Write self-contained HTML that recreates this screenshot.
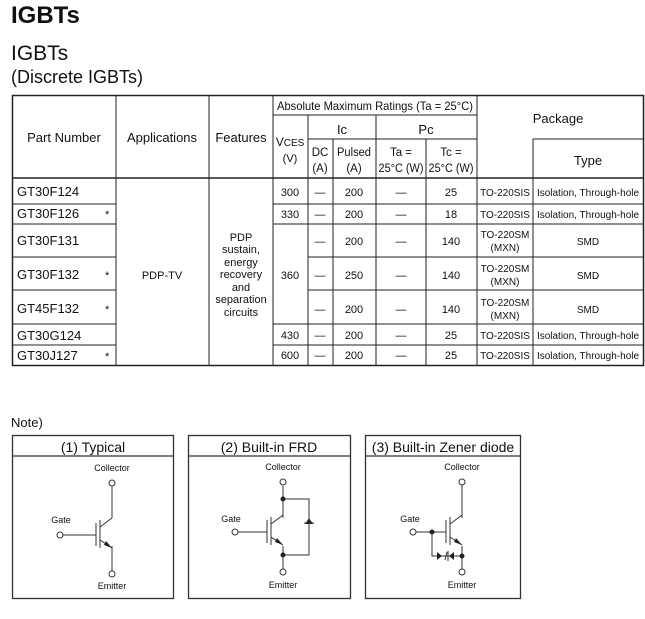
<!DOCTYPE html>
<html><head><meta charset="utf-8"><style>
html,body{margin:0;padding:0;background:#fff;width:645px;height:619px;overflow:hidden}
svg{display:block;font-family:"Liberation Sans",Arial,sans-serif}
</style></head><body>
<svg width="645" height="619" viewBox="0 0 645 619" xmlns="http://www.w3.org/2000/svg">
<g fill="#111">
<text x="11" y="23" font-size="24" font-weight="bold">IGBTs</text>
<text x="11" y="60" font-size="21">IGBTs</text>
<text x="11" y="83" font-size="18">(Discrete IGBTs)</text>
</g>
<g stroke="#222" stroke-width="1" fill="none">
<rect x="12.5" y="95.5" width="631" height="270" stroke-width="1.5"/>
<line x1="116" y1="95" x2="116" y2="366"/>
<line x1="209" y1="95" x2="209" y2="366"/>
<line x1="273" y1="95" x2="273" y2="366"/>
<line x1="533" y1="139" x2="533" y2="366"/>
<line x1="308" y1="115" x2="308" y2="366"/>
<line x1="333" y1="139" x2="333" y2="366"/>
<line x1="376" y1="115" x2="376" y2="366"/>
<line x1="426" y1="139" x2="426" y2="366"/>
<line x1="477" y1="95" x2="477" y2="366"/>
<line x1="273" y1="115" x2="477" y2="115"/>
<line x1="308" y1="139" x2="477" y2="139"/>
<line x1="533" y1="139" x2="644" y2="139"/>
<line x1="12" y1="178" x2="644" y2="178" stroke-width="1.5"/>
<line x1="12" y1="204" x2="116" y2="204"/><line x1="273" y1="204" x2="644" y2="204"/>
<line x1="12" y1="224" x2="116" y2="224"/><line x1="273" y1="224" x2="644" y2="224"/>
<line x1="12" y1="257" x2="116" y2="257"/><line x1="308" y1="257" x2="644" y2="257"/>
<line x1="12" y1="290" x2="116" y2="290"/><line x1="308" y1="290" x2="644" y2="290"/>
<line x1="12" y1="324" x2="116" y2="324"/><line x1="273" y1="324" x2="644" y2="324"/>
<line x1="12" y1="345" x2="116" y2="345"/><line x1="273" y1="345" x2="644" y2="345"/>
</g>
<g fill="#111" font-size="13" text-anchor="middle">
<text x="64" y="142">Part Number</text>
<text x="162" y="142">Applications</text>
<text x="241" y="142">Features</text>
<text x="375" y="110" font-size="12" textLength="196" lengthAdjust="spacingAndGlyphs">Absolute Maximum Ratings (Ta = 25°C)</text>
<text x="342" y="134">Ic</text>
<text x="426" y="134">Pc</text>
<text x="558" y="123">Package</text>
<text x="588" y="165">Type</text>
<text x="290" y="146" font-size="12">V<tspan font-size="10">CES</tspan></text>
<text x="290" y="162" font-size="11">(V)</text>
<g font-size="11.5">
<text x="320" y="156">DC</text><text x="320" y="172">(A)</text>
<text x="354" y="156" textLength="34" lengthAdjust="spacingAndGlyphs">Pulsed</text><text x="354" y="172">(A)</text>
<text x="401" y="156">Ta =</text><text x="401" y="172" textLength="45" lengthAdjust="spacingAndGlyphs">25°C (W)</text>
<text x="451" y="156">Tc =</text><text x="451" y="172" textLength="45" lengthAdjust="spacingAndGlyphs">25°C (W)</text>
</g>
</g>
<g fill="#111" font-size="13">
<text x="17" y="196">GT30F124</text>
<text x="17" y="218">GT30F126</text>
<text x="17" y="245">GT30F131</text>
<text x="17" y="279">GT30F132</text>
<text x="17" y="313">GT45F132</text>
<text x="17" y="340">GT30G124</text>
<text x="17" y="360">GT30J127</text>
<text x="105" y="218" font-size="11">*</text>
<text x="105" y="279" font-size="11">*</text>
<text x="105" y="313" font-size="11">*</text>
<text x="105" y="360" font-size="11">*</text>
</g>
<g fill="#111" font-size="11" text-anchor="middle">
<text x="162" y="279">PDP-TV</text>
<text x="241" y="241">PDP</text><text x="241" y="253">sustain,</text><text x="241" y="266">energy</text><text x="241" y="278">recovery</text><text x="241" y="291">and</text><text x="241" y="303">separation</text><text x="241" y="316">circuits</text>
<text x="290" y="196">300</text><text x="290" y="218">330</text><text x="290" y="279">360</text><text x="290" y="339">430</text><text x="290" y="359">600</text>
</g>
<g fill="#111" font-size="11" text-anchor="middle">
<text x="320" y="196">—</text><text x="354" y="196">200</text><text x="401" y="196">—</text><text x="451" y="196">25</text>
<text x="320" y="218">—</text><text x="354" y="218">200</text><text x="401" y="218">—</text><text x="451" y="218">18</text>
<text x="320" y="245">—</text><text x="354" y="245">200</text><text x="401" y="245">—</text><text x="451" y="245">140</text>
<text x="320" y="279">—</text><text x="354" y="279">250</text><text x="401" y="279">—</text><text x="451" y="279">140</text>
<text x="320" y="313">—</text><text x="354" y="313">200</text><text x="401" y="313">—</text><text x="451" y="313">140</text>
<text x="320" y="339">—</text><text x="354" y="339">200</text><text x="401" y="339">—</text><text x="451" y="339">25</text>
<text x="320" y="359">—</text><text x="354" y="359">200</text><text x="401" y="359">—</text><text x="451" y="359">25</text>
<g font-size="10">
<text x="505" y="196">TO-220SIS</text><text x="505" y="218">TO-220SIS</text>
<text x="505" y="238">TO-220SM</text><text x="505" y="251">(MXN)</text>
<text x="505" y="272">TO-220SM</text><text x="505" y="285">(MXN)</text>
<text x="505" y="306">TO-220SM</text><text x="505" y="319">(MXN)</text>
<text x="505" y="339">TO-220SIS</text><text x="505" y="359">TO-220SIS</text>
<text x="588" y="196">Isolation, Through-hole</text><text x="588" y="218">Isolation, Through-hole</text>
<text x="588" y="245">SMD</text><text x="588" y="279">SMD</text><text x="588" y="313">SMD</text>
<text x="588" y="339">Isolation, Through-hole</text><text x="588" y="359">Isolation, Through-hole</text>
</g>
</g>
<text x="11" y="427" font-size="13" fill="#111">Note)</text>
<g stroke="#333" fill="none" stroke-width="1.3">
<rect x="12.5" y="435.5" width="161" height="163"/><line x1="12" y1="456" x2="174" y2="456"/>
<rect x="188.5" y="435.5" width="162" height="163"/><line x1="188" y1="456" x2="351" y2="456"/>
<rect x="365.5" y="435.5" width="155" height="163"/><line x1="365" y1="456" x2="521" y2="456"/>
</g>
<g fill="#111" font-size="14" text-anchor="middle">
<text x="93" y="452">(1) Typical</text>
<text x="269" y="452">(2) Built-in FRD</text>
<text x="443" y="452">(3) Built-in Zener diode</text>
</g>
<g stroke="#333" stroke-width="1" fill="none">
<line x1="112" y1="486" x2="112" y2="518"/><line x1="112" y1="546" x2="112" y2="571"/>
<line x1="63" y1="535" x2="96" y2="535"/>
<line x1="96" y1="523" x2="96" y2="546"/>
<line x1="100" y1="520" x2="100" y2="548"/>
<line x1="100" y1="527" x2="112" y2="518"/><line x1="100" y1="540" x2="112" y2="548"/>
<circle cx="112" cy="483" r="3" fill="#fff"/><circle cx="112" cy="574" r="3" fill="#fff"/><circle cx="60" cy="535" r="3" fill="#fff"/>
<line x1="283" y1="486" x2="283" y2="518"/><line x1="283" y1="546" x2="283" y2="570"/>
<line x1="238" y1="532" x2="267" y2="532"/>
<line x1="267" y1="520" x2="267" y2="543"/>
<line x1="271" y1="517" x2="271" y2="545"/>
<line x1="271" y1="524" x2="283" y2="515"/><line x1="271" y1="537" x2="283" y2="545"/>
<polyline points="283,499 309,499 309,555 283,555"/>
<line x1="304" y1="523" x2="314" y2="523"/>
<circle cx="283" cy="482" r="3" fill="#fff"/><circle cx="283" cy="572" r="3" fill="#fff"/><circle cx="235" cy="532" r="3" fill="#fff"/>
<line x1="462" y1="485" x2="462" y2="518"/><line x1="462" y1="546" x2="462" y2="570"/>
<line x1="416" y1="532" x2="446" y2="532"/>
<line x1="446" y1="520" x2="446" y2="543"/>
<line x1="450" y1="517" x2="450" y2="545"/>
<line x1="450" y1="524" x2="462" y2="515"/><line x1="450" y1="537" x2="462" y2="545"/>
<polyline points="432,532 432,556 462,556"/>
<line x1="447" y1="552" x2="445" y2="560"/><line x1="448" y1="551" x2="448" y2="561"/>
<circle cx="462" cy="482" r="3" fill="#fff"/><circle cx="462" cy="572" r="3" fill="#fff"/><circle cx="413" cy="532" r="3" fill="#fff"/>
</g>
<g fill="#222">
<path d="M112,548 L106,541 L104,545 Z"/>
<path d="M283,545 L277,538 L275,542 Z"/>
<path d="M462,545 L456,538 L454,542 Z"/>
<path d="M309,518 L305,524 L313,524 Z"/>
<path d="M442,556 L437,552 L437,560 Z"/><path d="M449,556 L454,552 L454,560 Z"/>
<circle cx="283" cy="499" r="2.5"/><circle cx="283" cy="555" r="2.5"/>
<circle cx="432" cy="532" r="2.5"/><circle cx="462" cy="556" r="2.5"/>
</g>
<g fill="#111" font-size="9" text-anchor="middle">
<text x="112" y="471">Collector</text><text x="112" y="589">Emitter</text><text x="61" y="523">Gate</text>
<text x="283" y="470">Collector</text><text x="283" y="588">Emitter</text><text x="231" y="522">Gate</text>
<text x="462" y="470">Collector</text><text x="462" y="588">Emitter</text><text x="410" y="522">Gate</text>
</g>
</svg>
</body></html>
